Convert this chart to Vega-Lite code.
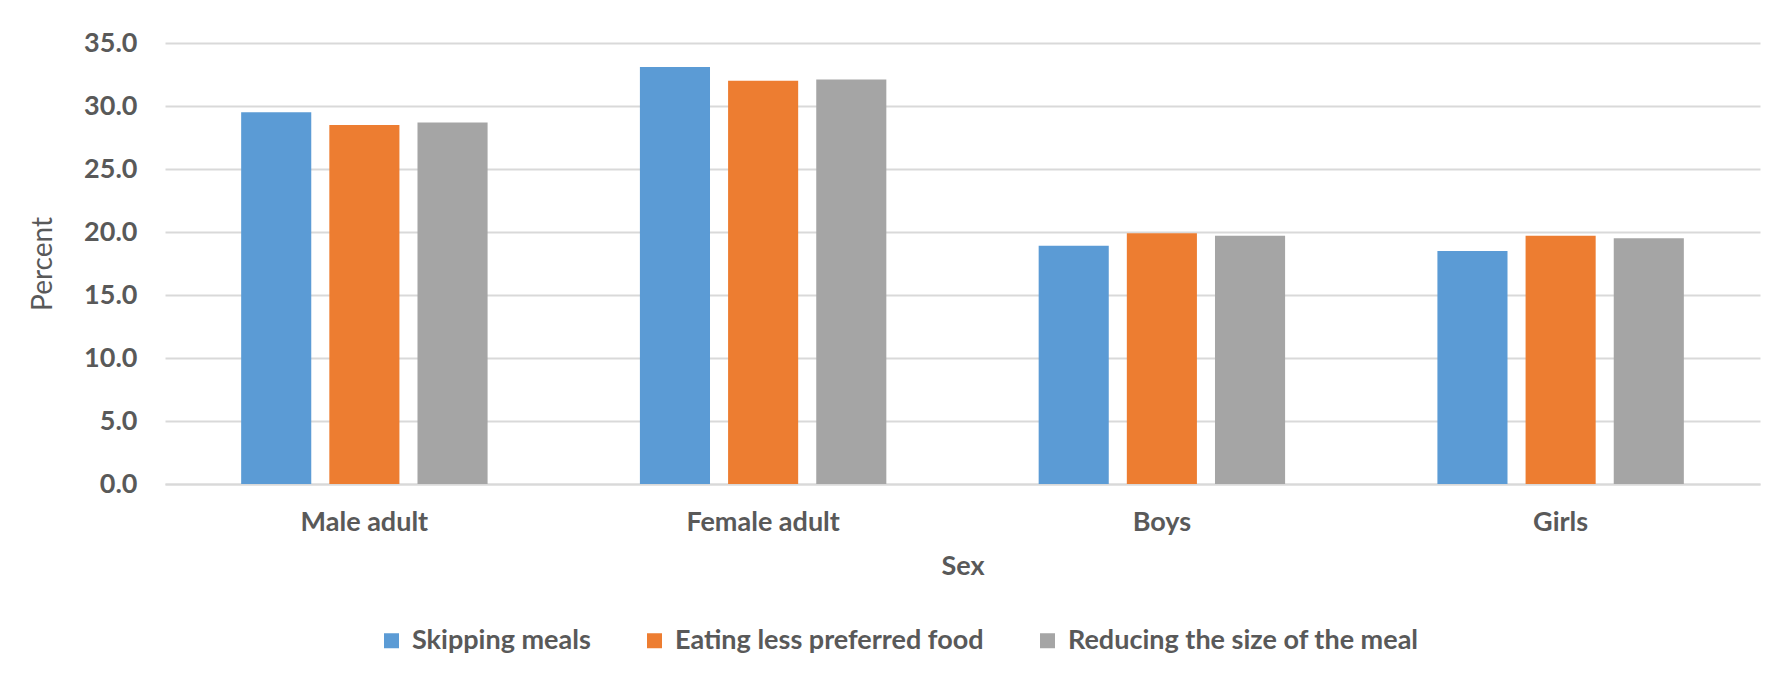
{
  "$schema": "https://vega.github.io/schema/vega-lite/v6.json",
  "width": 1595,
  "height": 441,
  "autosize": {"type": "none"},
  "padding": {"left": 165, "top": 43, "right": 13, "bottom": 193},
  "background": "white",
  "data": {
    "values": [
      {"sex": "Male adult", "strategy": "Skipping meals", "percent": 29.5},
      {"sex": "Male adult", "strategy": "Eating less preferred food", "percent": 28.5},
      {"sex": "Male adult", "strategy": "Reducing the size of the meal", "percent": 28.7},
      {"sex": "Female adult", "strategy": "Skipping meals", "percent": 33.1},
      {"sex": "Female adult", "strategy": "Eating less preferred food", "percent": 32.0},
      {"sex": "Female adult", "strategy": "Reducing the size of the meal", "percent": 32.1},
      {"sex": "Boys", "strategy": "Skipping meals", "percent": 18.9},
      {"sex": "Boys", "strategy": "Eating less preferred food", "percent": 19.9},
      {"sex": "Boys", "strategy": "Reducing the size of the meal", "percent": 19.7},
      {"sex": "Girls", "strategy": "Skipping meals", "percent": 18.5},
      {"sex": "Girls", "strategy": "Eating less preferred food", "percent": 19.7},
      {"sex": "Girls", "strategy": "Reducing the size of the meal", "percent": 19.5}
    ]
  },
  "mark": {"type": "bar"},
  "encoding": {
    "x": {
      "field": "sex",
      "type": "nominal",
      "sort": ["Male adult", "Female adult", "Boys", "Girls"],
      "scale": {"paddingInner": 0.382, "paddingOuter": 0.191},
      "axis": {
        "title": "Sex",
        "labelAngle": 0,
        "labelFontWeight": "bold",
        "labelFontSize": 27,
        "labelColor": "#595959",
        "labelPadding": 25,
        "titleFontSize": 27,
        "titleFontWeight": "bold",
        "titleColor": "#595959",
        "titlePadding": 18,
        "ticks": false,
        "domainColor": "#D9D9D9",
        "domainWidth": 2
      }
    },
    "xOffset": {
      "field": "strategy",
      "type": "nominal",
      "sort": ["Skipping meals", "Eating less preferred food", "Reducing the size of the meal"],
      "scale": {"paddingInner": 0.205, "paddingOuter": 0}
    },
    "y": {
      "field": "percent",
      "type": "quantitative",
      "scale": {"domain": [0, 35], "nice": false},
      "axis": {
        "title": "Percent",
        "values": [0, 5, 10, 15, 20, 25, 30, 35],
        "format": ".1f",
        "labelFontWeight": "bold",
        "labelFontSize": 27,
        "labelColor": "#595959",
        "labelPadding": 28,
        "titleFontSize": 28,
        "titleFontWeight": "normal",
        "titleColor": "#595959",
        "titlePadding": 26,
        "ticks": false,
        "domain": false,
        "gridColor": "#D9D9D9",
        "gridWidth": 2
      }
    },
    "color": {
      "field": "strategy",
      "type": "nominal",
      "sort": ["Skipping meals", "Eating less preferred food", "Reducing the size of the meal"],
      "scale": {"range": ["#5B9BD5", "#ED7D31", "#A5A5A5"]},
      "legend": {
        "title": null,
        "orient": "none",
        "direction": "horizontal",
        "legendX": 213,
        "legendY": 584,
        "symbolType": "square",
        "symbolSize": 225,
        "symbolStrokeWidth": 0,
        "labelFontSize": 27,
        "labelFontWeight": "bold",
        "labelColor": "#595959",
        "labelOffset": 7,
        "labelLimit": 0,
        "columnPadding": 50
      }
    }
  },
  "config": {
    "font": "Lato",
    "view": {"stroke": null}
  }
}
